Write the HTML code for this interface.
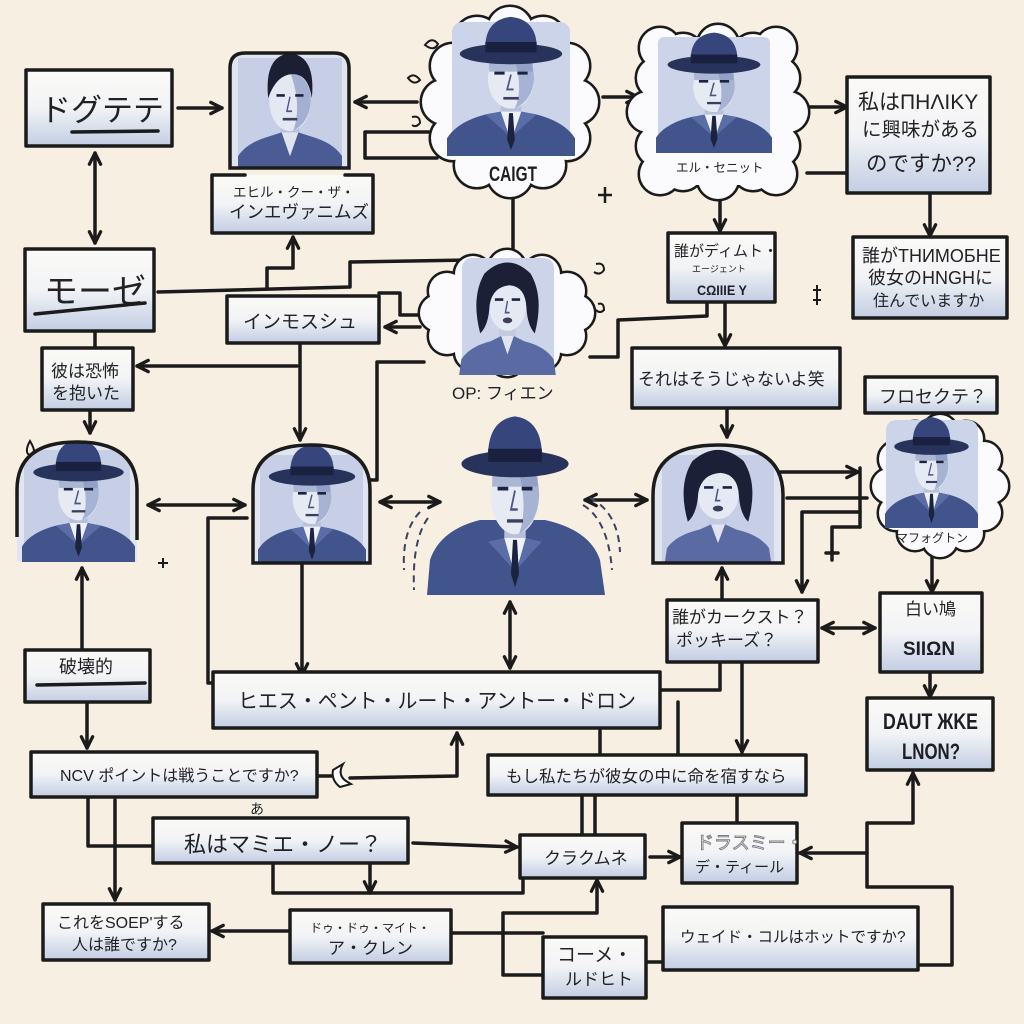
<!DOCTYPE html>
<html><head><meta charset="utf-8">
<style>
html,body{margin:0;padding:0;background:#f7efe1;}
svg{display:block}
.t{font-family:"Liberation Sans","Noto Sans CJK JP",sans-serif;fill:#222226;}
.b{font-family:"Liberation Sans","Noto Sans CJK JP",sans-serif;fill:#1e1e24;font-weight:bold;}
.ln{fill:none;stroke:#1b1b1b;stroke-width:3.5;stroke-linecap:round;stroke-linejoin:round;}
.bx{fill:url(#g);stroke:#1b1b1b;stroke-width:3.5;stroke-linejoin:round;}
</style></head>
<body>
<svg width="1024" height="1024" viewBox="0 0 1024 1024" xmlns="http://www.w3.org/2000/svg">
<defs>
<linearGradient id="g" x1="0" y1="0" x2="0" y2="1">
<stop offset="0" stop-color="#fbfaf7"/><stop offset=".5" stop-color="#f2f3f5"/><stop offset=".78" stop-color="#d6deec"/><stop offset="1" stop-color="#c3cde3"/></linearGradient>
<marker id="a" viewBox="0 0 12 12" refX="10.5" refY="6" markerWidth="15" markerHeight="15" orient="auto-start-reverse" markerUnits="userSpaceOnUse"><path d="M1.5,1.5 L10.5,6 L1.5,10.5" fill="none" stroke="#1b1b1b" stroke-width="2.6" stroke-linecap="round" stroke-linejoin="round"/></marker>

<symbol id="hat" viewBox="0 0 100 100" preserveAspectRatio="none">
<path d="M0,100 L0,88 Q8,77 30,72 L42,70 L50,90 L58,70 L70,72 Q92,77 100,88 L100,100 Z" fill="#42548c"/>
<path d="M30,72 L42,70 L48,86 L38,78 Z M70,72 L58,70 L52,86 L62,78 Z" fill="#5b6da6"/>
<path d="M42,70 L50,90 L58,70 L56,64 L44,64 Z" fill="#eef1f7"/>
<path d="M48.5,71 L51.5,71 L53,89 L50,96 L47,89 Z" fill="#1b2340"/>
<rect x="42" y="60" width="16" height="10" fill="#b7c1db"/>
<ellipse cx="50" cy="48" rx="18" ry="20" fill="#e6eaf3"/>
<path d="M50,28 Q68,30 68,48 Q67,62 53,68 Q61,52 50,28 Z" fill="#a7b3d3"/>
<rect x="33" y="37" width="34" height="6" fill="#8393bf" opacity=".6"/>
<path d="M37,44 L45,44 M55,44 L63,44" stroke="#1c2340" stroke-width="2"/>
<path d="M50,45 L47,55 L52,55" stroke="#4a5580" stroke-width="1.3" fill="none"/>
<path d="M44,61 L56,61" stroke="#3a3f60" stroke-width="1.8"/>
<path d="M30,31 Q28,8 50,6 Q72,8 70,31 Z" fill="#36467c"/>
<ellipse cx="50" cy="31" rx="40" ry="7" fill="#28335c"/>
<path d="M30,23 L70,23 L70,30 L30,30 Z" fill="#1a2140"/>
</symbol>

<symbol id="man" viewBox="0 0 100 100" preserveAspectRatio="none">
<path d="M0,100 L0,88 Q8,78 30,73 L42,70 L50,88 L58,70 L70,73 Q92,78 100,88 L100,100 Z" fill="#4a5c93"/>
<path d="M42,70 L50,88 L58,70 L56,64 L44,64 Z" fill="#dfe4ef"/>
<rect x="41" y="58" width="18" height="12" fill="#b7c1db"/>
<ellipse cx="50" cy="46" rx="20" ry="23" fill="#e3e8f2"/>
<path d="M50,24 Q70,28 70,46 Q69,62 53,69 Q62,50 50,24 Z" fill="#a3b0d2"/>
<path d="M37,42 L45,42 M55,42 L63,42" stroke="#1c2340" stroke-width="2"/>
<path d="M50,43 L47,54 L52,54" stroke="#4a5580" stroke-width="1.3" fill="none"/>
<path d="M43,60 L57,60" stroke="#3a3f60" stroke-width="2"/>
<path d="M29,44 Q25,12 50,10 Q75,12 71,44 Q68,28 56,26 Q38,24 29,44 Z" fill="#1a1f33"/>
</symbol>

<symbol id="wom" viewBox="0 0 100 100" preserveAspectRatio="none">
<path d="M4,100 L6,88 Q14,78 34,74 L44,70 L50,84 L56,70 L66,74 Q86,78 94,88 L96,100 Z" fill="#5a6ba3"/>
<path d="M44,70 L50,84 L56,70 Z" fill="#dfe4ef"/>
<rect x="42" y="56" width="16" height="14" fill="#c3cbe0"/>
<ellipse cx="50" cy="46" rx="18" ry="20" fill="#e5e9f3"/>
<path d="M38,42 L46,42 M54,42 L62,42" stroke="#1c2340" stroke-width="2"/>
<path d="M50,43 L48,52 L52,52" stroke="#4a5580" stroke-width="1.3" fill="none"/>
<ellipse cx="50" cy="58" rx="4.5" ry="2.2" fill="#3b3f5e"/>
<path d="M24,68 Q15,40 28,22 Q50,5 72,22 Q85,40 76,68 Q69,62 68,48 Q67,32 52,31 Q36,32 33,46 Q32,62 24,68 Z" fill="#1b2036"/>
</symbol>

<clipPath id="cL"><path d="M17,562 L17,490 Q17,442 77,442 Q137,442 137,490 L137,562 Z"/></clipPath>
<clipPath id="cC"><path d="M253,563 L253,490 Q253,445 311,445 Q370,445 370,490 L370,563 Z"/></clipPath>
<clipPath id="cW"><path d="M653,563 L653,495 Q653,445 718,445 Q783,445 783,495 L783,563 Z"/></clipPath>
<clipPath id="cP"><path d="M230,168 L230,68 Q230,53 245,53 L334,53 Q349,53 349,68 L349,168 Z"/></clipPath>

<g id="cl1">
<circle cx="576" cy="102" r="22"/><circle cx="567" cy="138" r="22"/><circle cx="543" cy="165" r="22"/><circle cx="510" cy="175" r="22"/><circle cx="477" cy="165" r="22"/><circle cx="453" cy="138" r="22"/><circle cx="444" cy="102" r="22"/><circle cx="453" cy="66" r="22"/><circle cx="477" cy="39" r="22"/><circle cx="510" cy="29" r="22"/><circle cx="543" cy="39" r="22"/><circle cx="567" cy="66" r="22"/>
</g>
<g id="cl2">
<circle cx="788" cy="112" r="20"/><circle cx="779" cy="146" r="20"/><circle cx="753" cy="170" r="20"/><circle cx="718" cy="179" r="20"/><circle cx="683" cy="170" r="20"/><circle cx="657" cy="146" r="20"/><circle cx="648" cy="112" r="20"/><circle cx="657" cy="78" r="20"/><circle cx="683" cy="54" r="20"/><circle cx="718" cy="45" r="20"/><circle cx="753" cy="54" r="20"/><circle cx="779" cy="78" r="20"/>
<circle cx="660" cy="48" r="20"/><circle cx="776" cy="48" r="20"/><circle cx="660" cy="174" r="20"/><circle cx="776" cy="174" r="20"/>
</g>
<g id="cl3">
<circle cx="576" cy="313" r="18"/><circle cx="567" cy="336" r="18"/><circle cx="542" cy="352" r="18"/><circle cx="507" cy="358" r="18"/><circle cx="473" cy="352" r="18"/><circle cx="447" cy="336" r="18"/><circle cx="438" cy="313" r="18"/><circle cx="447" cy="291" r="18"/><circle cx="473" cy="274" r="18"/><circle cx="507" cy="268" r="18"/><circle cx="542" cy="274" r="18"/><circle cx="567" cy="291" r="18"/>
</g>
<g id="cl4">
<circle cx="991" cy="486" r="17"/><circle cx="984" cy="513" r="17"/><circle cx="966" cy="533" r="17"/><circle cx="940" cy="540" r="17"/><circle cx="915" cy="533" r="17"/><circle cx="896" cy="513" r="17"/><circle cx="889" cy="486" r="17"/><circle cx="896" cy="459" r="17"/><circle cx="915" cy="439" r="17"/><circle cx="940" cy="432" r="17"/><circle cx="966" cy="439" r="17"/><circle cx="984" cy="459" r="17"/>
</g>
</defs>

<rect width="1024" height="1024" fill="#f7efe1"/>

<!-- ===== connectors ===== -->
<g class="ln">
<path d="M178,108 L222,108" marker-end="url(#a)"/>
<path d="M95,153 L95,243" marker-start="url(#a)" marker-end="url(#a)"/>
<path d="M417,102 L355,102" marker-end="url(#a)"/>
<path d="M433,132 L365,132 L365,158 L437,158"/>
<path d="M603,97 L638,97" marker-end="url(#a)"/>
<path d="M800,107 L847,107" marker-end="url(#a)"/>
<path d="M807,173 L847,173"/>
<path d="M930,193 L930,236" marker-end="url(#a)"/>
<path d="M720,200 L720,231" marker-end="url(#a)"/>
<path d="M725,302 L725,346" marker-end="url(#a)"/>
<path d="M590,357 L618,357 L618,320 L707,316 L707,302"/>
<path d="M513,197 L513,252"/>
<path d="M158,292 L350,287 L350,262 L470,260"/>
<path d="M267,289 L267,268 L293,268 L293,237" marker-end="url(#a)"/>
<path d="M379,293 L400,293 L400,315 L428,315"/>
<path d="M420,327 L385,327" marker-end="url(#a)"/>
<path d="M297,366 L137,366" marker-end="url(#a)"/>
<path d="M300,343 L300,440" marker-end="url(#a)"/>
<path d="M424,362 L377,362 L377,480 L368,480"/>
<path d="M95,331 L95,348"/>
<path d="M90,410 L90,433" marker-end="url(#a)"/>
<path d="M148,505 L245,505" marker-start="url(#a)" marker-end="url(#a)"/>
<path d="M247,518 L208,518 L208,683 L213,683"/>
<path d="M302,565 L302,675" marker-end="url(#a)"/>
<path d="M380,502 L440,502" marker-start="url(#a)" marker-end="url(#a)"/>
<path d="M585,500 L647,500" marker-start="url(#a)" marker-end="url(#a)"/>
<path d="M510,602 L510,668" marker-start="url(#a)" marker-end="url(#a)"/>
<path d="M727,408 L727,437" marker-end="url(#a)"/>
<path d="M775,472 L858,472" marker-end="url(#a)"/>
<path d="M860,468 L860,527"/>
<path d="M787,498 L867,498"/>
<path d="M860,512 L802,512 L802,592" marker-end="url(#a)"/>
<path d="M860,527 L832,527 L832,560 M826,553 L838,553"/>
<path d="M722,600 L722,568" marker-end="url(#a)"/>
<path d="M932,557 L932,592" marker-end="url(#a)"/>
<path d="M822,628 L875,628" marker-start="url(#a)" marker-end="url(#a)"/>
<path d="M930,672 L930,697" marker-end="url(#a)"/>
<path d="M742,662 L742,752" marker-end="url(#a)"/>
<path d="M720,662 L720,690 L662,690"/>
<path d="M678,702 L678,755"/>
<path d="M600,728 L600,755"/>
<path d="M82,648 L82,568" marker-end="url(#a)"/>
<path d="M87,702 L87,748" marker-end="url(#a)"/>
<path d="M318,776 L333,776"/>
<path d="M350,778 L457,776 L457,733" marker-end="url(#a)"/>
<path d="M88,797 L88,846 L153,846"/>
<path d="M115,800 L115,900" marker-end="url(#a)"/>
<path d="M413,843 L517,847" marker-end="url(#a)"/>
<path d="M273,863 L273,893 L523,893 L523,878"/>
<path d="M370,863 L370,893" marker-end="url(#a)"/>
<path d="M582,795 L582,836 M595,795 L595,836"/>
<path d="M737,795 L737,823"/>
<path d="M650,857 L680,857" marker-end="url(#a)"/>
<path d="M542,975 L503,975 L503,913 L597,913 L597,880" marker-end="url(#a)"/>
<path d="M451,933 L543,933"/>
<path d="M288,931 L212,931" marker-end="url(#a)"/>
<path d="M646,962 L663,962"/>
<path d="M918,965 L952,965 L952,887 L867,887 L867,823 L913,823 L913,773" marker-end="url(#a)"/>
<path d="M867,853 L800,853" marker-end="url(#a)"/>
</g>
<path d="M333,770 L343,764 Q337,775 346,781 L351,784 L340,787 Q331,780 333,770 Z" fill="#fff" stroke="#1b1b1b" stroke-width="2"/>

<!-- ===== clouds ===== -->
<use href="#cl1" fill="#fff" stroke="#1b1b1b" stroke-width="5"/>
<use href="#cl1" fill="#fbfbfd"/><ellipse cx="510" cy="102" rx="66" ry="73" fill="#fbfbfd"/>
<use href="#cl2" fill="#fff" stroke="#1b1b1b" stroke-width="5"/>
<use href="#cl2" fill="#fbfbfd"/><rect x="650" y="40" width="136" height="145" fill="#fbfbfd"/>
<use href="#cl3" fill="#fff" stroke="#1b1b1b" stroke-width="5"/>
<use href="#cl3" fill="#fbfbfd"/><ellipse cx="507" cy="313" rx="69" ry="45" fill="#fbfbfd"/>
<use href="#cl4" fill="#fff" stroke="#1b1b1b" stroke-width="5"/>
<use href="#cl4" fill="#fbfbfd"/><ellipse cx="940" cy="486" rx="51" ry="54" fill="#fbfbfd"/>

<!-- portraits in clouds -->
<rect x="452" y="22" width="118" height="132" rx="10" fill="#cbd4e8"/>
<use href="#hat" x="447" y="8" width="128" height="148"/>
<rect x="658" y="37" width="112" height="113" rx="6" fill="#cbd4e8"/>
<use href="#hat" x="656" y="25" width="116" height="128"/>
<rect x="462" y="258" width="92" height="112" rx="10" fill="#cbd4e8"/>
<use href="#wom" x="455" y="245" width="105" height="130"/>
<rect x="886" y="420" width="92" height="106" rx="10" fill="#cbd4e8"/>
<use href="#hat" x="885" y="410" width="93" height="118"/>

<!-- framed portraits -->
<path d="M230,168 L230,68 Q230,53 245,53 L334,53 Q349,53 349,68 L349,168 Z" fill="#dfe4ef"/>
<g clip-path="url(#cP)"><rect x="238" y="58" width="104" height="110" fill="#c6cfe5"/><use href="#man" x="238" y="40" width="104" height="132"/></g>
<path d="M230,168 L230,68 Q230,53 245,53 L334,53 Q349,53 349,68 L349,168 Z" fill="none" stroke="#1b1b1b" stroke-width="3.5"/>

<g clip-path="url(#cL)"><rect x="17" y="442" width="120" height="120" fill="#e0e5f0"/><rect x="24" y="450" width="106" height="110" fill="#c6cfe5"/><use href="#hat" x="22" y="432" width="113" height="130"/></g>
<path d="M17,537 L17,490 Q17,442 77,442 Q137,442 137,490 L137,540" fill="none" stroke="#1b1b1b" stroke-width="3.5"/>

<g clip-path="url(#cC)"><rect x="253" y="445" width="117" height="118" fill="#e0e5f0"/><rect x="260" y="455" width="103" height="108" fill="#c6cfe5"/><use href="#hat" x="258" y="437" width="108" height="128"/></g>
<path d="M253,563 L253,490 Q253,445 311,445 Q370,445 370,490 L370,563 Z" fill="none" stroke="#1b1b1b" stroke-width="3.5"/>

<g clip-path="url(#cW)"><rect x="653" y="445" width="130" height="118" fill="#e0e5f0"/><rect x="662" y="455" width="112" height="108" fill="#c6cfe5"/><use href="#wom" x="660" y="432" width="116" height="132"/></g>
<path d="M653,563 L653,495 Q653,445 718,445 Q783,445 783,495 L783,563 Z" fill="none" stroke="#1b1b1b" stroke-width="3.5"/>

<!-- big man -->
<path d="M427,595 L430,560 Q440,530 480,520 L545,520 Q590,530 600,560 L605,595 Z" fill="#42548c"/>
<use href="#hat" x="448" y="405" width="134" height="190"/>
<g fill="none" stroke="#3a4260" stroke-width="2" stroke-dasharray="7 5">
<path d="M428,518 Q412,540 414,590"/><path d="M420,512 Q402,530 404,570"/>
<path d="M583,505 Q608,520 612,570"/><path d="M590,498 Q618,512 620,552"/>
</g>

<!-- ===== boxes ===== -->
<rect class="bx" x="26" y="70" width="146" height="76"/>
<text class="t" x="40" y="121" font-size="31">ドグテテ</text>
<path d="M72,132 L158,131" class="ln" stroke-width="3"/>

<rect x="212" y="175" width="161" height="58" fill="url(#g)"/>
<path d="M245,175 L212,175 L212,233 L373,233 L373,175 L345,175" class="ln"/>
<text class="t" x="233" y="197" font-size="13.5">エヒル・クー・ザ・</text>
<text class="t" x="229" y="218" font-size="17.5">インエヴァニムズ</text>

<rect class="bx" x="25" y="249" width="129" height="82"/>
<text class="t" x="44" y="303" font-size="34">モーゼ</text>
<path d="M35,314 L145,303" class="ln"/>

<rect class="bx" x="227" y="296" width="152" height="47"/>
<text class="t" x="243" y="328" font-size="19">インモスシュ</text>

<rect class="bx" x="42" y="348" width="91" height="62"/>
<text class="t" x="51" y="377" font-size="17">彼は恐怖</text>
<text class="t" x="52" y="399" font-size="17">を抱いた</text>

<rect class="bx" x="847" y="77" width="143" height="116"/>
<text class="t" x="858" y="109" font-size="21">私はΠΗΛΙΚΥ</text>
<text class="t" x="862" y="136" font-size="19.5">に興味がある</text>
<text class="t" x="866" y="171" font-size="21.5">のですか??</text>

<rect class="bx" x="668" y="233" width="107" height="69"/>
<text class="t" x="674" y="256" font-size="15">誰がディムト・</text>
<text class="t" x="692" y="272" font-size="9">エージェント</text>
<text class="b" x="697" y="295" font-size="14" textLength="50" lengthAdjust="spacingAndGlyphs">CΩIIIE Y</text>

<rect class="bx" x="853" y="237" width="154" height="81"/>
<text class="t" x="862" y="262" font-size="18">誰がTHИМОБНЕ</text>
<text class="t" x="868" y="284" font-size="18">彼女のHNGHに</text>
<text class="t" x="873" y="306" font-size="16">住んでいますか</text>

<rect class="bx" x="632" y="348" width="208" height="60"/>
<text class="t" x="638" y="385" font-size="17">それはそうじゃないよ笑</text>

<rect class="bx" x="865" y="377" width="132" height="36"/>
<text class="t" x="879" y="403" font-size="18">フロセクテ？</text>

<rect class="bx" x="667" y="600" width="151" height="62"/>
<text class="t" x="672" y="623" font-size="17">誰がカークスト？</text>
<text class="t" x="676" y="646" font-size="17">ポッキーズ？</text>

<rect class="bx" x="880" y="593" width="102" height="79"/>
<text class="t" x="905" y="615" font-size="17">白い鳩</text>
<text class="b" x="903" y="655" font-size="19" textLength="52" lengthAdjust="spacingAndGlyphs">SIIΩN</text>

<rect class="bx" x="867" y="698" width="126" height="72"/>
<text class="b" x="883" y="729" font-size="22" textLength="95" lengthAdjust="spacingAndGlyphs">DAUT ЖKE</text>
<text class="b" x="902" y="759" font-size="22" textLength="58" lengthAdjust="spacingAndGlyphs">LNON?</text>

<rect class="bx" x="25" y="650" width="125" height="52"/>
<text class="t" x="59" y="673" font-size="18">破壊的</text>
<path d="M37,685 L145,683" class="ln"/>

<rect class="bx" x="213" y="672" width="447" height="56"/>
<text class="t" x="238" y="708" font-size="20.5" textLength="398" lengthAdjust="spacingAndGlyphs">ヒエス・ペント・ルート・アントー・ドロン</text>

<rect class="bx" x="31" y="752" width="286" height="45"/>
<text class="t" x="60" y="781" font-size="16">NCV ポイントは戦うことですか?</text>
<text class="t" x="250" y="814" font-size="14">あ</text>

<rect class="bx" x="153" y="818" width="255" height="45"/>
<text class="t" x="184" y="852" font-size="22">私はマミエ・ノー？</text>

<rect class="bx" x="488" y="755" width="318" height="40"/>
<text class="t" x="506" y="782" font-size="16.5">もし私たちが彼女の中に命を宿すなら</text>

<rect class="bx" x="520" y="835" width="125" height="43"/>
<text class="t" x="544" y="864" font-size="17">クラクムネ</text>

<rect class="bx" x="682" y="823" width="115" height="60"/>
<text x="696" y="849" font-size="18" font-family="Liberation Sans, Noto Sans CJK JP, sans-serif" fill="#f3f3f3" stroke="#7a7a80" stroke-width=".9">ドラスミー・</text>
<text class="t" x="695" y="872" font-size="15">デ・ティール</text>

<rect class="bx" x="43" y="904" width="166" height="56"/>
<text class="t" x="57" y="928" font-size="16">これをSOEP'する</text>
<text class="t" x="72" y="950" font-size="16">人は誰ですか?</text>

<rect class="bx" x="290" y="910" width="161" height="53"/>
<text class="t" x="310" y="932" font-size="12">ドゥ・ドゥ・マイト・</text>
<text class="t" x="328" y="954" font-size="17">ア・クレン</text>

<rect class="bx" x="543" y="937" width="103" height="61"/>
<text class="t" x="557" y="961" font-size="19">コーメ・</text>
<text class="t" x="565" y="985" font-size="17">ルドヒト</text>

<rect class="bx" x="663" y="907" width="255" height="63"/>
<text class="t" x="680" y="942" font-size="15.5">ウェイド・コルはホットですか?</text>

<!-- free labels -->
<text class="b" x="489" y="181" font-size="21" textLength="48" lengthAdjust="spacingAndGlyphs">CAIGT</text>
<text class="t" x="676" y="172" font-size="12.5">エル・セニット</text>
<text class="t" x="452" y="399" font-size="17">OP: フィエン</text>
<text class="t" x="896" y="542" font-size="12">マフォグトン</text>

<!-- doodles -->
<g fill="none" stroke="#1b1b1b" stroke-width="2">
<path d="M158,563 L168,563 M163,558 L163,568"/>
<path d="M598,195 L612,195 M605,187 L605,203" stroke-width="2.5"/>
<path d="M817,285 L817,305 M813,290 L821,290 M813,300 L821,300"/>
<path d="M30,441 Q25,450 28,454 Q33,456 34,450 Q33,446 30,441 Z"/>
<path d="M425,45 Q432,36 438,44 Q434,52 425,45 Z"/>
<path d="M408,78 Q414,72 420,80 Q414,86 408,78 Z"/>
<path d="M412,117 Q420,115 420,123 Q416,128 412,125"/>
<path d="M596,264 Q604,262 604,270 Q600,276 594,272"/>
<path d="M598,304 Q604,302 604,310 Q600,314 596,310"/>
</g>
</svg>
</body></html>
